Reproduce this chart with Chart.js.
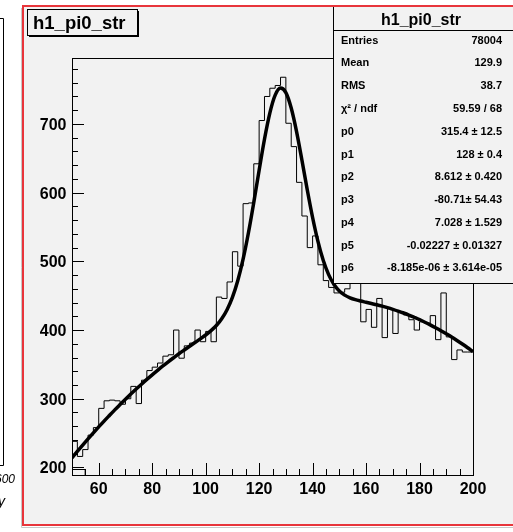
<!DOCTYPE html>
<html>
<head>
<meta charset="utf-8">
<script src="https://cdn.jsdelivr.net/npm/chart.js@4.4.0/dist/chart.umd.min.js"></script>
<style>
  html, body { margin: 0; padding: 0; background: #fff; }
  canvas { display: block; }
</style>
</head>
<body>
<canvas id="histChart" width="513" height="532"></canvas>
<script>
// histogram h1_pi0_str : 75 bins of width 2 between 50 and 200
const xMin = 50, xMax = 200, binWidth = 2;
const counts = [
  238, 238, 216, 226, 247, 258, 286, 297, 298, 297,
  292, 300, 318, 293, 327, 341, 346, 352, 362, 364,
  400, 359, 377, 381, 400, 383, 398, 383, 448, 446,
  470, 514, 493, 584, 585, 642, 705, 740, 752, 756,
  768, 701, 667, 615, 566, 520, 537, 495, 472, 462,
  454, 455, 460, 468, 472, 412, 430, 404, 446, 389,
  431, 395, 427, 422, 415, 400, 412, 410, 421, 386,
  454, 390, 357, 371, 368
];

// fitted curve (gaus + pol3)
const fitX = [
  50, 52, 54, 56, 58, 60, 62, 64, 66, 68, 70, 72, 74, 76, 78, 80, 82, 84, 86, 88,
  90, 92, 94, 96, 98, 100, 102, 104, 106, 108, 110, 112, 114, 116, 118, 120, 122, 124, 126, 128,
  130, 132, 134, 136, 138, 140, 142, 144, 146, 148, 150, 152, 154, 156, 158, 160, 162, 164, 166, 168,
  170, 172, 174, 176, 178, 180, 182, 184, 186, 188, 190, 192, 194, 196, 198, 200
];
const fitY = [
  214.0, 223.4, 232.6, 241.6, 250.4, 259.0, 267.5, 275.7, 283.8, 291.6,
  299.3, 306.8, 314.1, 321.2, 328.1, 334.8, 341.3, 347.7, 353.8, 359.7,
  365.5, 371.0, 376.4, 381.8, 387.2, 392.8, 399.1, 406.6, 416.4, 429.6,
  447.5, 471.7, 503.1, 541.6, 585.8, 632.7, 677.8, 715.8, 741.9, 752.2,
  745.6, 723.2, 688.9, 647.5, 604.2, 563.8, 529.0, 501.2, 480.7, 466.4,
  456.9, 450.8, 446.9, 444.2, 442.2, 440.4, 438.6, 436.8, 434.8, 432.6,
  430.2, 427.6, 424.8, 421.8, 418.5, 415.1, 411.4, 407.5, 403.4, 399.1,
  394.5, 389.8, 384.8, 379.6, 374.2, 368.6
];

// a second histogram, only its first bin pokes above the frame bottom
const lowEdges = [50, 55];
const lowCounts = [197];

// axes
const yMin = 189, yMax = 796;
const xTicks = [60, 80, 100, 120, 140, 160, 180, 200];
const yTicks = [200, 300, 400, 500, 600, 700];
const xMinorStep = 5, yMinorStep = 20;

// stats box
const histName = 'h1_pi0_str';
const statLabels = ['Entries', 'Mean', 'RMS', 'χ² / ndf', 'p0', 'p1', 'p2', 'p3', 'p4', 'p5', 'p6'];
const statValues = ['78004', '129.9', '38.7', '59.59 / 68', '315.4 ± 12.5', '128 ± 0.4',
  '8.612 ± 0.420', '-80.71± 54.43', '7.028 ± 1.529', '-0.02227 ± 0.01327', '-8.185e-06 ± 3.614e-05'];

const padGray = '#f2f2f2';
const font = '"Liberation Sans", Arial, Helvetica, sans-serif';

// step outline: one point on each low edge, last value repeated at the high edge
const histPoints = counts.map((c, i) => ({ x: xMin + i * binWidth, y: c }));
histPoints.push({ x: xMax, y: counts[counts.length - 1] });

const lowPoints = [{ x: lowEdges[0], y: yMin }];
lowCounts.forEach((c, i) => {
  lowPoints.push({ x: lowEdges[i], y: c });
  lowPoints.push({ x: lowEdges[i + 1], y: c });
});
lowPoints.push({ x: lowEdges[lowEdges.length - 1], y: yMin });

const fitPoints = fitX.map((x, i) => ({ x: x, y: fitY[i] }));

// draws the ROOT look: pad, frame, inward ticks, stats box, title, red border
const rootPad = {
  id: 'rootPad',
  beforeDraw(chart) {
    const ctx = chart.ctx;
    ctx.save();
    ctx.fillStyle = '#fff';
    ctx.fillRect(0, 0, chart.width, chart.height);
    ctx.fillStyle = padGray;
    ctx.fillRect(23, 6, 520, 519);
    ctx.restore();
  },
  afterDatasetsDraw(chart) {
    const ctx = chart.ctx;
    const xs = chart.scales.x, ys = chart.scales.y;
    const a = chart.chartArea;
    ctx.save();

    // frame
    ctx.strokeStyle = '#000';
    ctx.lineWidth = 1;
    ctx.strokeRect(Math.round(a.left) + 0.5, Math.round(a.top) + 0.5,
      Math.round(a.right - a.left), Math.round(a.bottom - a.top));

    // y ticks
    ctx.beginPath();
    for (let v = Math.ceil(yMin / yMinorStep) * yMinorStep; v <= yMax; v += yMinorStep) {
      const py = Math.round(ys.getPixelForValue(v)) + 0.5;
      const len = yTicks.includes(v) ? 12 : 6;
      ctx.moveTo(a.left, py);
      ctx.lineTo(a.left + len, py);
    }
    // x ticks
    for (let v = xMin + xMinorStep; v <= xMax; v += xMinorStep) {
      const px = Math.round(xs.getPixelForValue(v)) + 0.5;
      const len = xTicks.includes(v) ? 12 : 6;
      ctx.moveTo(px, a.bottom);
      ctx.lineTo(px, a.bottom - len);
    }
    ctx.stroke();

    // tick labels
    ctx.fillStyle = '#000';
    ctx.font = 'bold 16px ' + font;
    ctx.textAlign = 'right';
    ctx.textBaseline = 'alphabetic';
    yTicks.forEach(v => ctx.fillText(String(v), a.left - 5.5, ys.getPixelForValue(v) + 6));
    ctx.textAlign = 'center';
    xTicks.forEach(v => ctx.fillText(String(v), xs.getPixelForValue(v), a.bottom + 19));

    // stats box
    ctx.fillStyle = padGray;
    ctx.fillRect(333, 6, 200, 277);
    ctx.strokeStyle = '#000';
    ctx.strokeRect(333.5, 6.5, 200, 277);
    ctx.beginPath();
    ctx.moveTo(333, 30.5);
    ctx.lineTo(513, 30.5);
    ctx.stroke();
    ctx.fillStyle = '#000';
    ctx.font = 'bold 16px ' + font;
    ctx.textAlign = 'center';
    ctx.fillText(histName, 421, 25);
    ctx.font = 'bold 11px ' + font;
    ctx.textBaseline = 'middle';
    statLabels.forEach((lab, i) => {
      const ry = 40.7 + i * 22.76;
      ctx.textAlign = 'left';
      ctx.fillText(lab, 341, ry);
      ctx.textAlign = 'right';
      ctx.fillText(statValues[i], 502, ry);
    });

    // title box with shadow
    ctx.fillStyle = '#000';
    ctx.fillRect(29, 11, 110, 26);
    ctx.fillStyle = padGray;
    ctx.fillRect(27, 9, 110, 26);
    ctx.strokeRect(27.5, 9.5, 110, 26);
    ctx.fillStyle = '#000';
    ctx.font = 'bold 18.5px ' + font;
    ctx.textAlign = 'left';
    ctx.textBaseline = 'alphabetic';
    ctx.fillText(histName, 33, 28.5);

    // red pad border
    ctx.strokeStyle = '#e8353b';
    ctx.lineWidth = 2;
    ctx.strokeRect(23, 6, 520, 519);
    ctx.strokeStyle = '#c8c8c8';
    ctx.lineWidth = 1;
    ctx.beginPath();
    ctx.moveTo(21.5, 8);
    ctx.lineTo(21.5, 527.5);
    ctx.lineTo(513, 527.5);
    ctx.stroke();

    // piece of the neighbouring pad on the left
    ctx.strokeStyle = '#000';
    ctx.beginPath();
    ctx.moveTo(0, 18.5);
    ctx.lineTo(3.5, 18.5);
    ctx.lineTo(3.5, 465.5);
    ctx.lineTo(0, 465.5);
    ctx.stroke();
    ctx.fillStyle = '#000';
    ctx.font = 'italic 12px ' + font;
    ctx.textAlign = 'right';
    ctx.fillText('600', 15, 483);
    ctx.textAlign = 'left';
    ctx.font = 'italic 14px ' + font;
    ctx.fillText('y', -2, 506);

    ctx.restore();
  }
};

new Chart(document.getElementById('histChart'), {
  type: 'line',
  data: {
    datasets: [
      {
        label: 'fit',
        data: fitPoints,
        borderColor: '#000',
        borderWidth: 3.5,
        cubicInterpolationMode: 'monotone',
        pointRadius: 0,
        fill: false,
        order: 0
      },
      {
        label: histName,
        data: histPoints,
        stepped: 'after',
        borderColor: '#000',
        borderWidth: 1,
        pointRadius: 0,
        fill: false,
        order: 1
      },
      {
        label: 'low',
        data: lowPoints,
        borderColor: '#000',
        borderWidth: 1,
        pointRadius: 0,
        fill: false,
        order: 2
      }
    ]
  },
  options: {
    responsive: false,
    animation: false,
    devicePixelRatio: 1,
    layout: { padding: { left: 72, right: 40, top: 58, bottom: 57 } },
    scales: {
      x: { type: 'linear', min: xMin, max: xMax, display: false },
      y: { type: 'linear', min: yMin, max: yMax, display: false }
    },
    plugins: {
      legend: { display: false },
      tooltip: { enabled: false }
    }
  },
  plugins: [rootPad]
});
</script>
</body>
</html>
